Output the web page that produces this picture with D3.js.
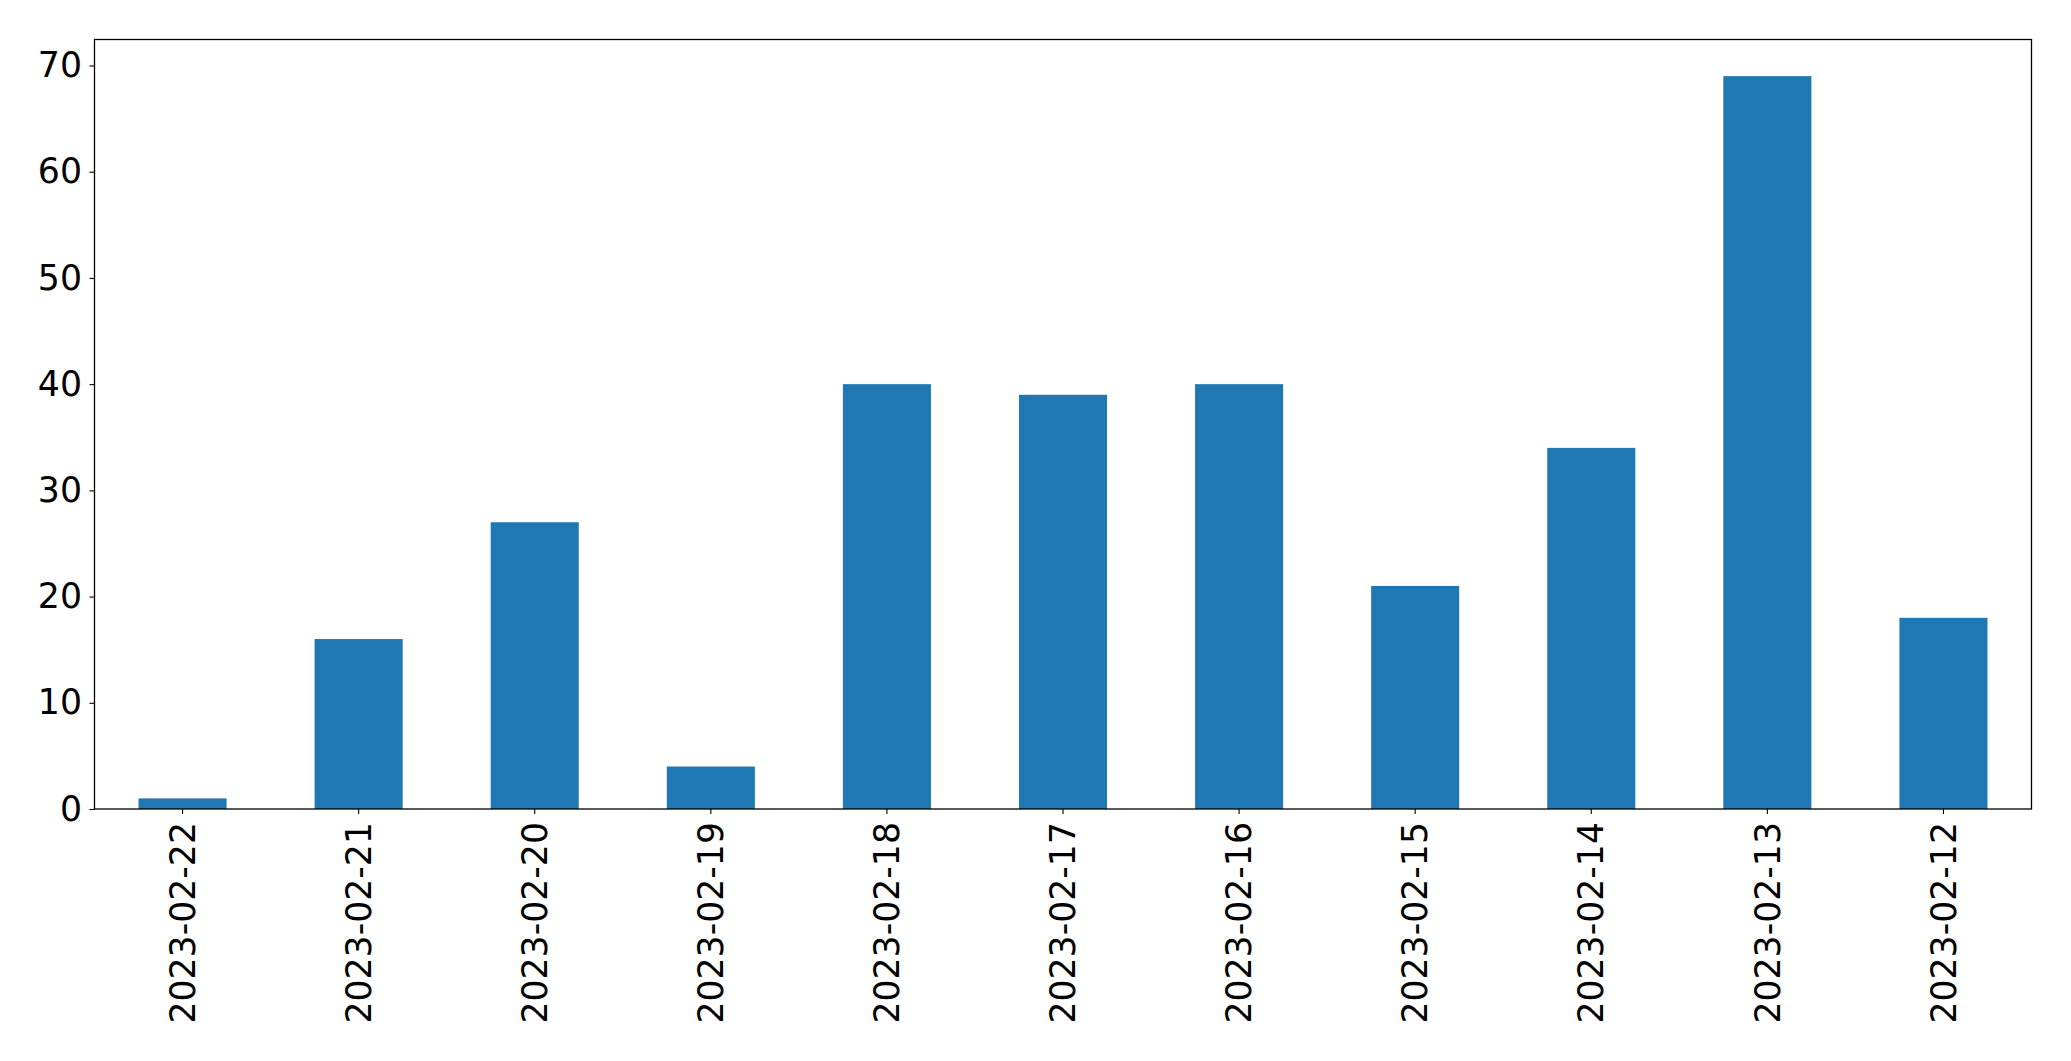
<!DOCTYPE html>
<html><head><meta charset="utf-8">
<script src="https://cdn.jsdelivr.net/npm/d3@7"></script>
<style>body{margin:0;background:#fff}svg{display:block}text{font-family:"DejaVu Sans",sans-serif}</style>
</head><body><div id="chart"></div>
<script>
const categories = ["2023-02-22","2023-02-21","2023-02-20","2023-02-19","2023-02-18","2023-02-17","2023-02-16","2023-02-15","2023-02-14","2023-02-13","2023-02-12"];
const values = [1,16,27,4,40,39,40,21,34,69,18];
const yTicks = [0,10,20,30,40,50,60,70];

const W = 2071, H = 1061;
const m = {left:94.5, right:W-2031.5, top:39.5, bottom:H-809};
const svg = d3.select("#chart").append("svg").attr("width",W).attr("height",H);
const g = svg.append("g").attr("transform",`translate(${m.left},${m.top})`);
const iw = W-m.left-m.right, ih = H-m.top-m.bottom;

const x = d3.scaleBand().domain(categories).range([0,iw]).paddingInner(0.5).paddingOuter(0.25);
const y = d3.scaleLinear().domain([0, d3.max(values)*1.05]).range([ih,0]);

g.selectAll("rect.bar").data(values).join("rect").attr("class","bar")
  .attr("x",(d,i)=>x(categories[i])).attr("width",x.bandwidth())
  .attr("y",d=>y(d)).attr("height",d=>y(0)-y(d)).attr("fill","#1f77b4");

const fs = 34.7;
const ya = g.append("g").call(d3.axisLeft(y).tickValues(yTicks).tickSize(5).tickPadding(7.5));
ya.select(".domain").remove();
ya.selectAll("text").attr("font-size",fs).attr("font-family","DejaVu Sans").attr("fill","#000");
ya.selectAll("line").attr("stroke","#000").attr("stroke-width",1.1);

const xa = g.append("g").attr("transform",`translate(0,${ih})`).call(d3.axisBottom(x).tickSize(5).tickPadding(0));
xa.select(".domain").remove();
xa.selectAll("line").attr("stroke","#000").attr("stroke-width",1.1);
xa.selectAll("text").attr("font-size",fs).attr("font-family","DejaVu Sans").attr("fill","#000")
  .attr("transform","translate(0,13) rotate(-90)").attr("text-anchor","end").attr("dy","0.35em").attr("y",0).attr("x",0);

g.append("rect").attr("x",0).attr("y",0).attr("width",iw).attr("height",ih)
  .attr("fill","none").attr("stroke","#000").attr("stroke-width",1.3);
</script></body></html>
